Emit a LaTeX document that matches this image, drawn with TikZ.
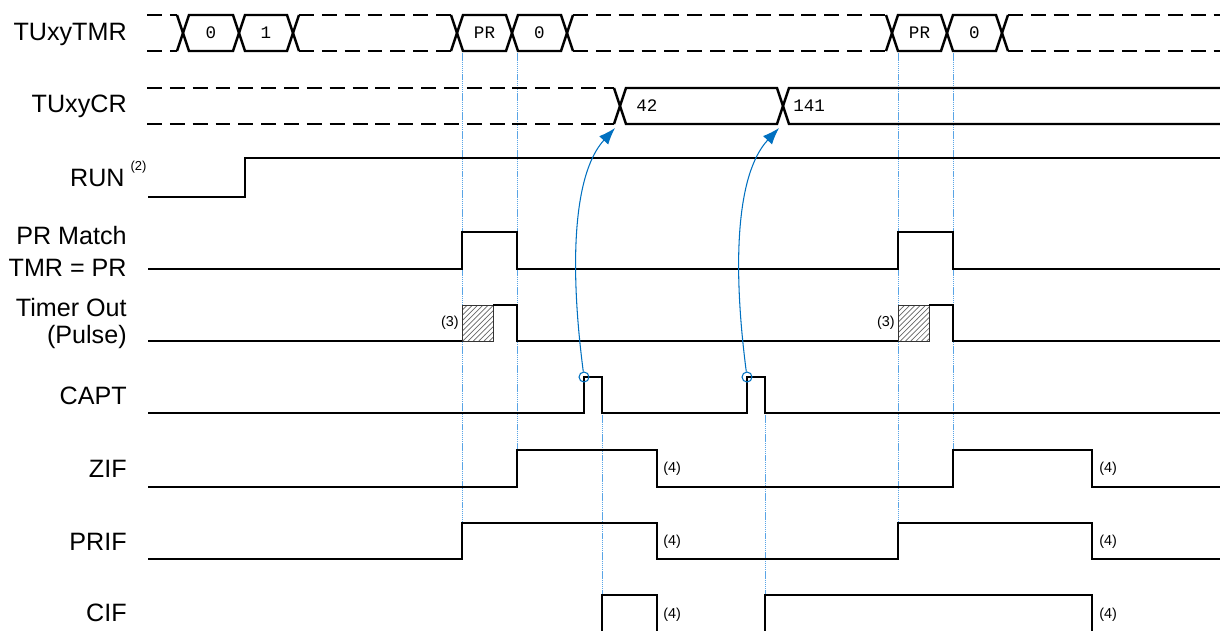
\documentclass[tikz,border=0pt]{standalone}
\usepackage{fontspec}
\setmainfont{Liberation Sans}
\newfontfamily\monofont{Liberation Mono}
\usetikzlibrary{arrows.meta,patterns}
\definecolor{capture}{HTML}{0070C0}
\definecolor{guideblue}{HTML}{5AA5E6}
\definecolor{hatchgray}{HTML}{666666}

\begin{document}
\begin{tikzpicture}[x=0.02cm,y=-0.02cm,
  sig/.style={line width=0.75pt},
  captsig/.style={line width=1.1pt},
  bus/.style={line width=1.4pt,line join=miter},
  busdash/.style={line width=1.4pt,dash pattern=on 8.5pt off 4.5pt},
  guideline/.style={guideblue,line width=0.5pt,dash pattern=on 0.8pt off 0.4pt},
  lbl/.style={font=\fontsize{14.3}{17}\selectfont,anchor=base east,inner sep=0pt},
  note/.style={font=\fontsize{8.2}{10}\selectfont,inner sep=0pt},
  val/.style={font=\monofont\fontsize{10}{12}\selectfont,inner sep=0pt},
  ring/.style={circle,draw=capture,line width=0.6pt,minimum size=0.2cm,inner sep=0pt},
  hatchbox/.style={draw=black!80,line width=0.5pt,pattern=north east lines,pattern color=hatchgray}]
  \useasboundingbox (0,0) rectangle (1220,630);

  \node[lbl] (lTMR) at (127,40) {TUxyTMR};
  \node[lbl] (lCR) at (127,112) {TUxyCR};
  \node[lbl] (lRUN) at (125,186) {RUN};
  \node[note,font=\fontsize{7.4}{8}\selectfont] (lRUNsup) at (138.5,167.5) {(2)};
  \node[lbl] (lPRa) at (127,244) {PR Match};
  \node[lbl] (lPRb) at (127,276) {TMR = PR};
  \node[lbl] (lTOa) at (127,316) {Timer Out};
  \node[lbl] (lTOb) at (127,343) {(Pulse)};
  \node[lbl] (lCAPT) at (127,404) {CAPT};
  \node[lbl] (lZIF) at (127,477) {ZIF};
  \node[lbl] (lPRIF) at (127,550) {PRIF};
  \node[lbl] (lCIF) at (127,621) {CIF};

  \draw[guideline] (462,51) -- (462,523);
  \draw[guideline] (517,51) -- (517,450);
  \draw[guideline] (898,51) -- (898,523);
  \draw[guideline] (953,51) -- (953,450);
  \draw[guideline] (602,413) -- (602,595);
  \draw[guideline] (765,413) -- (765,595);

  \foreach \xa/\xb in {147/177, 299/451, 573/886, 1008/1220} {
    \draw[busdash] (\xa,15) -- (\xb,15);
    \draw[busdash] (\xa,51) -- (\xb,51);
  }
  \foreach \xc in {183, 457, 892}
    \draw[bus] (\xc-6,15) -- (\xc,33) -- (\xc-6,51);
  \foreach \xc in {293, 567, 1002}
    \draw[bus] (\xc+6,15) -- (\xc,33) -- (\xc+6,51);
  \foreach \xa/\xb/\v in {183/239/0, 239/293/1, 457/512/PR, 512/567/0, 892/947/PR, 947/1002/0} {
    \draw[bus] (\xa,33) -- (\xa+6,15) -- (\xb-6,15) -- (\xb,33) -- (\xb-6,51) -- (\xa+6,51) -- cycle;
    \node[val] at ({(\xa+\xb)/2},33) {\v};
  }

  \draw[busdash] (147,88) -- (614,88);
  \draw[busdash] (147,124) -- (614,124);
  \draw[bus] (614,88) -- (620,106) -- (614,124);
  \draw[bus] (620,106) -- (626,88) -- (777,88) -- (783,106) -- (777,124) -- (626,124) -- cycle;
  \draw[bus] (1220,88) -- (789,88) -- (783,106) -- (789,124) -- (1220,124);
  \node[val,anchor=west] (v42) at (636,106) {42};
  \node[val,anchor=west] (v141) at (793,106) {141};

  \draw[sig] (148,197) -- (245,197) -- (245,158) -- (1220,158);

  \draw[sig] (148,269) -- (462,269) -- (462,232) -- (517,232) -- (517,269) -- (898,269)
    -- (898,232) -- (953,232) -- (953,269) -- (1220,269);

  \draw[sig] (148,341) -- (462,341);
  \draw[hatchbox] (462,305) rectangle (493,341);
  \draw[sig] (493,305) -- (517,305) -- (517,341) -- (898,341);
  \draw[hatchbox] (898,305) rectangle (929,341);
  \draw[sig] (929,305) -- (953,305) -- (953,341) -- (1220,341);
  \node[note,anchor=east] (n3a) at (459,323) {(3)};
  \node[note,anchor=east] (n3b) at (895,323) {(3)};

  \draw[captsig] (148,413) -- (584,413) -- (584,377) -- (602,377) -- (602,413) -- (747,413)
    -- (747,377) -- (765,377) -- (765,413) -- (1220,413);

  \draw[sig] (148,487) -- (517,487) -- (517,450) -- (657,450) -- (657,487) -- (953,487)
    -- (953,450) -- (1092,450) -- (1092,487) -- (1220,487);
  \draw[sig] (148,559) -- (462,559) -- (462,523) -- (657,523) -- (657,559) -- (898,559)
    -- (898,523) -- (1092,523) -- (1092,559) -- (1220,559);
  \draw[sig] (602,632) -- (602,595) -- (657,595) -- (657,632);
  \draw[sig] (765,632) -- (765,595) -- (1092,595) -- (1092,632);

  \foreach \yy in {469, 542, 615} {
    \node[note,anchor=west] at (663,\yy) {(4)};
    \node[note,anchor=west] at (1099,\yy) {(4)};
  }

  \node[ring] (cap1) at (584,377) {};
  \node[ring] (cap2) at (747,377) {};
  \coordinate (cr42) at (615,128);
  \coordinate (cr141) at (779,128);
  \draw[capture,line width=0.6pt,-{Latex[length=9.5pt,width=7pt]}] (cap1) .. controls (570,270) and (572,175) .. (cr42);
  \draw[capture,line width=0.6pt,-{Latex[length=9.5pt,width=7pt]}] (cap2) .. controls (733,270) and (735,175) .. (cr141);
\end{tikzpicture}
\end{document}
